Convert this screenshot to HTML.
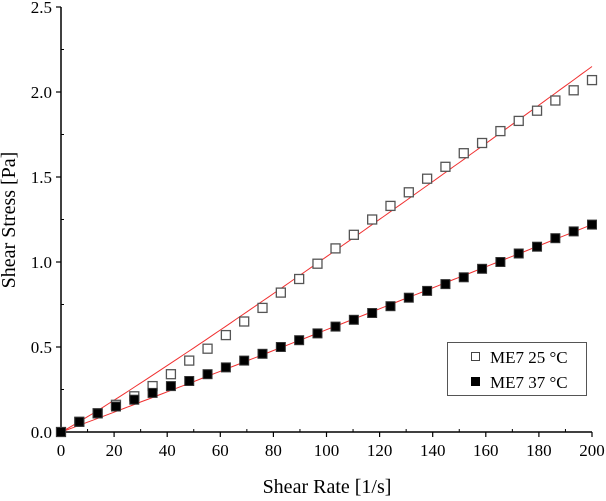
<!DOCTYPE html>
<html><head><meta charset="utf-8"><style>
html,body{margin:0;padding:0;background:#fff;}
svg{display:block;font-family:"Liberation Serif",serif;}
</style></head><body>
<svg id="chart" width="606" height="501" viewBox="0 0 606 501">
<g id="axes"></g><g id="fits"></g><g id="marks"></g>
<g>
<rect x="447.5" y="342.5" width="139" height="53" fill="#fff" stroke="#555" stroke-width="1"/>
<rect x="471.5" y="352.5" width="8" height="8" fill="#fff" stroke="#444"/>
<text x="490" y="363" font-size="17">ME7 25 °C</text>
<rect x="471.5" y="377.5" width="8" height="8" fill="#000" stroke="#000"/>
<text x="490" y="388" font-size="17">ME7 37 °C</text>
</g>
<text x="327" y="493" font-size="20" text-anchor="middle">Shear Rate [1/s]</text>
<text transform="translate(15,220) rotate(-90)" font-size="20" text-anchor="middle">Shear Stress [Pa]</text>
</svg>
<script>
const shearRate=[0,6.9,13.8,20.7,27.6,34.5,41.4,48.3,55.2,62.1,69,75.9,82.8,89.7,96.6,103.4,110.3,117.2,124.1,131,137.9,144.8,151.7,158.6,165.5,172.4,179.3,186.2,193.1,200];
const stress25=[0,0.06,0.11,0.16,0.21,0.27,0.34,0.42,0.49,0.57,0.65,0.73,0.82,0.90,0.99,1.08,1.16,1.25,1.33,1.41,1.49,1.56,1.64,1.70,1.77,1.83,1.89,1.95,2.01,2.07];
const stress37=[0,0.06,0.11,0.15,0.19,0.23,0.27,0.30,0.34,0.38,0.42,0.46,0.50,0.54,0.58,0.62,0.66,0.70,0.74,0.79,0.83,0.87,0.91,0.96,1.00,1.05,1.09,1.14,1.18,1.22];
const fit25=[2.15,1.06];
const fit37=[1.22,1.02];
const xTicks=[0,20,40,60,80,100,120,140,160,180,200];
const yTicks=[0.0,0.5,1.0,1.5,2.0,2.5];
const NS="http://www.w3.org/2000/svg";
const X0=61,X1=592,Y0=432,Y1=7;
const sx=v=>X0+(v/200)*(X1-X0);
const sy=v=>Y0-(v/2.5)*(Y0-Y1);
function mk(t,a,p){const e=document.createElementNS(NS,t);for(const k in a)e.setAttribute(k,a[k]);p.appendChild(e);return e;}
const ax=document.getElementById('axes');
let e=mk('line',{x1:X0,y1:Y0,x2:X1,y2:Y0,stroke:'#000','stroke-width':1.5},ax);


e=mk('line',{x1:X0,y1:Y0,x2:X0,y2:Y1,stroke:'#000','stroke-width':1.5},ax);


xTicks.forEach((t,i)=>{const x=sx(t);mk('line',{x1:x,y1:Y0,x2:x,y2:Y0+5,stroke:'#000','stroke-width':1.2},ax);
 if(i<xTicks.length-1){const xm=sx(t+10);mk('line',{x1:xm,y1:Y0,x2:xm,y2:Y0-3,stroke:'#000','stroke-width':1},ax);}
 const l=mk('text',{x:x,y:Y0+24,'font-size':17,'text-anchor':'middle'},ax);l.textContent=t;
 
 });
yTicks.forEach((t,i)=>{const y=sy(t);mk('line',{x1:X0-5,y1:y,x2:X0,y2:y,stroke:'#000','stroke-width':1.2},ax);
 if(i<yTicks.length-1){const ym=sy(t+0.25);mk('line',{x1:X0,y1:ym,x2:X0+3,y2:ym,stroke:'#000','stroke-width':1},ax);}
 const l=mk('text',{x:X0-9,y:y+6,'font-size':17,'text-anchor':'end'},ax);l.textContent=t.toFixed(1);
 
 });
const fg=document.getElementById('fits');
[[fit25,'fit-line-25c'],[fit37,'fit-line-37c']].forEach(([f,n])=>{let d='';for(let i=0;i<=100;i++){const x=i*2;const y=f[0]*Math.pow(x/200,f[1]);d+=(i?'L':'M')+sx(x).toFixed(1)+','+sy(y).toFixed(1);}
 const p=mk('path',{d:d,fill:'none',stroke:'#f03030','stroke-width':1},fg);
 
 });
const mg=document.getElementById('marks');
shearRate.forEach((x,i)=>{const r=mk('rect',{x:sx(x)-4.5,y:sy(stress25[i])-4.5,width:9,height:9,fill:'#fff',stroke:'#555','stroke-width':1.3},mg);
 
 });
shearRate.forEach((x,i)=>{const r=mk('rect',{x:sx(x)-4.5,y:sy(stress37[i])-4.5,width:9,height:9,fill:'#000',stroke:'#333','stroke-width':1},mg);
 
 });
</script>
</body></html>
